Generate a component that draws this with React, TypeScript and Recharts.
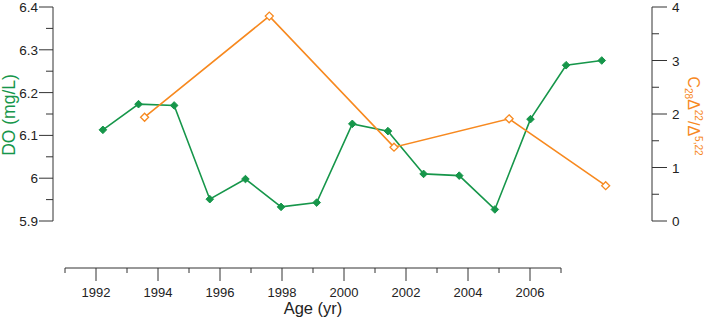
import { LineChart, Line, XAxis, YAxis } from "recharts";

// DO record, one value per year
const doYears = [1992, 1993, 1994, 1995, 1996, 1997, 1998, 1999, 2000, 2001, 2002, 2003, 2004, 2005, 2006];
const doValues = [6.113, 6.173, 6.17, 5.951, 5.998, 5.933, 5.943, 6.127, 6.11, 6.01, 6.006, 5.927, 6.138, 6.264, 6.275];

// C28 ratio, sparser samples
const ratioYears = [1993.17, 1996.67, 2000.17, 2003.4, 2006.11];
const ratioValues = [1.94, 3.83, 1.38, 1.91, 0.66];

const axisYears = [1991, 1992, 1993, 1994, 1995, 1996, 1997, 1998, 1999, 2000, 2001, 2002, 2003, 2004, 2005, 2006, 2007];
const doTicks = [5.9, 5.95, 6.0, 6.05, 6.1, 6.15, 6.2, 6.25, 6.3, 6.35, 6.4];
const ratioTicks = [0, 0.5, 1, 1.5, 2, 2.5, 3, 3.5, 4];

const GREEN = "#16964a";
const ORANGE = "#f7891f";
const AXIS = "#333";
const FONT = "'Liberation Sans', Arial, sans-serif";

const doData = doYears.map((year, i) => ({ year, v: doValues[i] }));
const ratioData = ratioYears.map((year, i) => ({ year, v: ratioValues[i] }));
const axisData = axisYears.map((year) => ({ year }));

const isMajor = (v: number, step: number) => Math.abs(v / step - Math.round(v / step)) < 1e-6;

function LeftTick(props: any) {
  const { x, y, payload } = props;
  const v = payload.value;
  const major = isMajor(v, 0.1);
  return (
    <g>
      <line x1={x - (major ? 14 : 7)} x2={x} y1={y} y2={y} stroke={AXIS} strokeWidth={1} />
      {major && (
        <text x={x - 15} y={y + 5} textAnchor="end" fontSize={13.5} fill="#222" fontFamily={FONT}>
          {Math.abs(v - 6) < 1e-6 ? "6" : v.toFixed(1)}
        </text>
      )}
    </g>
  );
}

function RightTick(props: any) {
  const { x, y, payload } = props;
  const v = payload.value;
  const major = isMajor(v, 1);
  return (
    <g>
      <line x1={x} x2={x + (major ? 15 : 7)} y1={y} y2={y} stroke={AXIS} strokeWidth={1} />
      {major && (
        <text x={x + 20} y={y + 5} textAnchor="start" fontSize={13.5} fill="#222" fontFamily={FONT}>
          {v}
        </text>
      )}
    </g>
  );
}

function BottomTick(props: any) {
  const { x, y, payload } = props;
  const v = payload.value;
  const major = v % 2 === 0;
  return (
    <g>
      <line x1={x} x2={x} y1={y} y2={y + (major ? 13 : 5)} stroke={AXIS} strokeWidth={1} />
      {major && (
        <text x={x} y={y + 29} textAnchor="middle" fontSize={13} fill="#222" fontFamily={FONT}>
          {v}
        </text>
      )}
    </g>
  );
}

function GreenDot(props: any) {
  const { cx, cy, index } = props;
  if (cx == null || cy == null) return <g key={index} />;
  const r = 3.8;
  return (
    <polygon
      key={index}
      points={`${cx},${cy - r} ${cx + r},${cy} ${cx},${cy + r} ${cx - r},${cy}`}
      fill={GREEN}
      stroke={GREEN}
      strokeWidth={1}
    />
  );
}

function OrangeDot(props: any) {
  const { cx, cy, index } = props;
  if (cx == null || cy == null) return <g key={index} />;
  const r = 4;
  return (
    <polygon
      key={index}
      points={`${cx},${cy - r} ${cx + r},${cy} ${cx},${cy + r} ${cx - r},${cy}`}
      fill="#fff"
      stroke={ORANGE}
      strokeWidth={1.3}
    />
  );
}

function DoLabel() {
  return (
    <text
      x={15}
      y={115}
      transform="rotate(-90, 15, 115)"
      textAnchor="middle"
      fontSize={17.5}
      fill={GREEN}
      fontFamily={FONT}
    >
      DO (mg/L)
    </text>
  );
}

function RatioLabel() {
  return (
    <text
      x={688}
      y={116}
      transform="rotate(90, 688, 116)"
      textAnchor="middle"
      fontSize={16}
      fill={ORANGE}
      fontFamily={FONT}
    >
      <tspan>C</tspan>
      <tspan fontSize={10} dy={3}>28</tspan>
      <tspan dy={-3}>Δ</tspan>
      <tspan fontSize={10} dy={-7}>22</tspan>
      <tspan dy={7}>/Δ</tspan>
      <tspan fontSize={10} dy={-7}>5,22</tspan>
    </text>
  );
}

function AgeLabel(props: any) {
  const vb = props.viewBox;
  return (
    <text
      x={vb.x + vb.width / 2}
      y={vb.y + 46}
      textAnchor="middle"
      fontSize={16.5}
      fill="#222"
      fontFamily={FONT}
    >
      Age (yr)
    </text>
  );
}

export default function App() {
  return (
    <div style={{ position: "absolute", left: 0, top: 0, width: 706, height: 319, background: "#fff" }}>
      <div style={{ position: "absolute", left: 0, top: 0 }}>
        <LineChart width={706} height={240} margin={{ top: 7, right: 0, bottom: 19, left: 0 }}>
          <XAxis dataKey="year" type="number" domain={[1990.6, 2007.41]} allowDataOverflow hide />
          <YAxis
            yAxisId="do"
            width={53}
            domain={[5.9, 6.4]}
            ticks={doTicks}
            interval={0}
            tickSize={0}
            tickMargin={0}
            tick={<LeftTick />}
            axisLine={{ stroke: AXIS }}
            label={<DoLabel />}
          />
          <YAxis
            yAxisId="ratio"
            orientation="right"
            width={54}
            domain={[0, 4]}
            ticks={ratioTicks}
            interval={0}
            tickSize={0}
            tickMargin={0}
            tick={<RightTick />}
            axisLine={{ stroke: AXIS }}
            label={<RatioLabel />}
          />
          <Line
            yAxisId="do"
            data={doData}
            dataKey="v"
            stroke={GREEN}
            strokeWidth={1.6}
            dot={GreenDot}
            activeDot={false}
            isAnimationActive={false}
          />
          <Line
            yAxisId="ratio"
            data={ratioData}
            dataKey="v"
            stroke={ORANGE}
            strokeWidth={1.6}
            dot={OrangeDot}
            activeDot={false}
            isAnimationActive={false}
          />
        </LineChart>
      </div>
      <div style={{ position: "absolute", left: 0, top: 0 }}>
        <LineChart width={706} height={319} data={axisData} margin={{ top: 250, right: 145, bottom: 0, left: 65 }}>
          <YAxis hide />
          <XAxis
            dataKey="year"
            type="number"
            domain={[1991, 2007]}
            ticks={axisYears}
            interval={0}
            tickSize={0}
            tickMargin={0}
            height={51}
            tick={<BottomTick />}
            axisLine={{ stroke: AXIS }}
            label={<AgeLabel />}
          />
        </LineChart>
      </div>
    </div>
  );
}
